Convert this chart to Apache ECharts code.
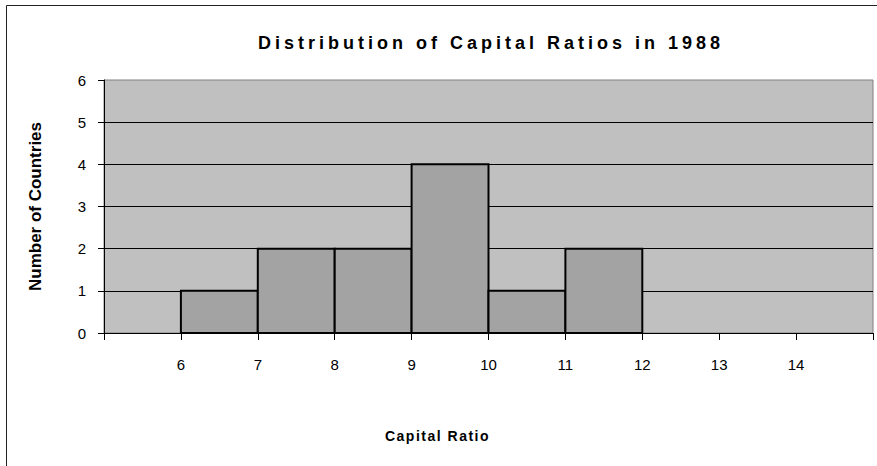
<!DOCTYPE html>
<html>
<head>
<meta charset="utf-8">
<script src="https://cdn.jsdelivr.net/npm/echarts@6/dist/echarts.min.js"></script>
<style>
html,body{margin:0;padding:0;background:#fff;}
#c{width:877px;height:466px;}
</style>
</head>
<body>
<div id="c"></div>
<script>
// Data
var binStarts = [6, 7, 8, 9, 10, 11];
var binEnds = [7, 8, 9, 10, 11, 12];
var counts = [1, 2, 2, 4, 1, 2];
var xTickLabels = ['6', '7', '8', '9', '10', '11', '12', '13', '14'];
var titleText = 'Distribution of Capital Ratios in 1988';
var xName = 'Capital Ratio';
var yName = 'Number of Countries';

var FONT = 'Arial, "Liberation Sans", sans-serif';
var barData = binStarts.map(function (s, i) { return [s, binEnds[i], counts[i]]; });

var chart = echarts.init(document.getElementById('c'), null, { renderer: 'svg' });
chart.setOption({
  animation: false,
  backgroundColor: '#fff',
  title: {
    text: titleText,
    left: 486,
    textAlign: 'center',
    top: 29,
    textStyle: { fontFamily: FONT, fontSize: 18, fontWeight: 'bold', color: '#000' }
  },
  graphic: [{
    type: 'rect',
    shape: { x: 6.5, y: 5.5, width: 900, height: 500 },
    style: { fill: 'none', stroke: '#222', lineWidth: 1 },
    silent: true,
    z: 100
  }],
  grid: {
    left: 104, right: 4, top: 80, bottom: 133,
    show: true, backgroundColor: '#c0c0c0', borderColor: '#808080', borderWidth: 1
  },
  xAxis: {
    type: 'value',
    min: 5, max: 15, interval: 1,
    name: xName,
    nameLocation: 'middle',
    nameGap: 96,
    nameTextStyle: { fontFamily: FONT, fontSize: 14, fontWeight: 'bold', color: '#000', padding: [0, 102, 0, 0] },
    axisLine: { show: true, lineStyle: { color: '#000', width: 1 } },
    axisTick: { show: true, inside: false, length: 7, lineStyle: { color: '#000' } },
    axisLabel: {
      fontFamily: FONT, fontSize: 15, color: '#000', margin: 24,
      formatter: function (v) {
        var s = String(v);
        return xTickLabels.indexOf(s) >= 0 ? s : '';
      }
    },
    splitLine: { show: false }
  },
  yAxis: {
    type: 'value',
    min: 0, max: 6, interval: 1,
    name: yName,
    nameLocation: 'middle',
    nameRotate: 90,
    nameGap: 60,
    nameTextStyle: { fontFamily: FONT, fontSize: 17, fontWeight: 'bold', color: '#000' },
    axisLine: { show: true, lineStyle: { color: '#000', width: 1 } },
    axisTick: { show: true, inside: false, length: 6, lineStyle: { color: '#000' } },
    axisLabel: { fontFamily: FONT, fontSize: 15, color: '#000', margin: 18 },
    splitLine: { show: true, showMinLine: false, showMaxLine: false, lineStyle: { color: '#000', width: 1 } }
  },
  series: [{
    type: 'custom',
    data: barData,
    encode: { x: [0, 1], y: 2 },
    renderItem: function (params, api) {
      var p0 = api.coord([api.value(0), api.value(2)]);
      var p1 = api.coord([api.value(1), 0]);
      return {
        type: 'rect',
        shape: { x: p0[0], y: p0[1], width: p1[0] - p0[0], height: p1[1] - p0[1] },
        style: { fill: '#a3a3a3', stroke: '#000', lineWidth: 2 }
      };
    },
    z: 10
  }]
});

function spaceText() {
  var texts = document.querySelectorAll('#c svg text');
  texts.forEach(function (t) {
    var s = t.textContent;
    if (s === titleText) t.style.letterSpacing = '4px';
    else if (s === xName) t.style.letterSpacing = '1.5px';
  });
}
spaceText();
chart.on('finished', spaceText);
setTimeout(spaceText, 0);
setTimeout(spaceText, 100);
</script>
</body>
</html>
